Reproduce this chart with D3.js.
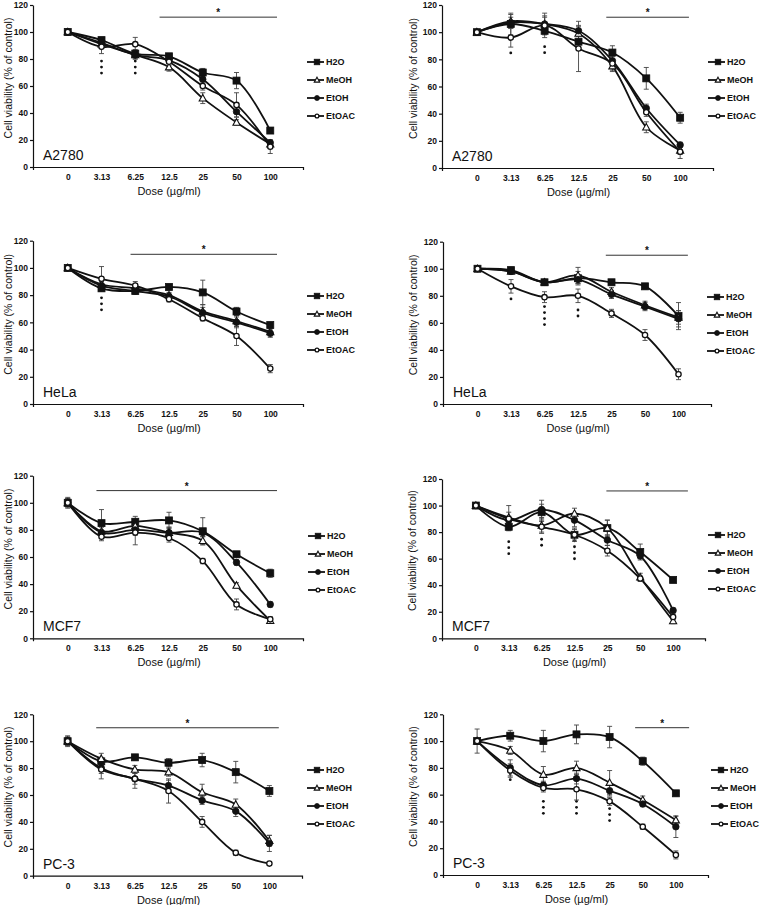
<!DOCTYPE html>
<html>
<head>
<meta charset="utf-8">
<script src="https://cdn.jsdelivr.net/npm/d3@7/dist/d3.min.js"></script>
<style>
  body { margin:0; background:#fff; }
  svg { display:block; font-family:"Liberation Sans", Arial, sans-serif; }
</style>
</head>
<body>
<svg id="chart" width="761" height="905"></svg>
<script>
// ---------------- DATA ----------------
const doses = ["0", "3.13", "6.25", "12.5", "25", "50", "100"];
const seriesNames = ["H2O", "MeOH", "EtOH", "EtOAC"];
const yTicks = [0, 20, 40, 60, 80, 100, 120];
const cellLines = ["A2780", "A2780", "HeLa", "HeLa", "MCF7", "MCF7", "PC-3", "PC-3"];

// values per panel: [H2O, MeOH, EtOH, EtOAC]
const p1Values = [[100,94,84,82,70,64,27],[100,91,83,74,51,33,17],[100,92,83,79,65,41,18],[100,89,91,78,60,46,15]];
const p1Errors = [[2,2,3,2,3,6,2],[2,3,3,3,4,2,3],[2,2,3,2,3,4,2],[2,5,5,3,3,9,5]];
const p2Values = [[100,106,101,93,85,66,37],[100,108,106,99,75,30,13],[100,107,106,101,79,44,17],[100,96,105,88,77,41,12]];
const p2Errors = [[1,8,5,4,5,8,4],[1,5,6,5,4,4,3],[1,4,8,7,4,3,2],[1,7,6,17,5,3,5]];
const p3Values = [[100,85,83,86,82,68,58],[100,88,85,80,68,61,53],[100,87,83,79,67,60,52],[100,92,87,77,63,50,26]];
const p3Errors = [[1,2,2,2,9,3,2],[1,3,3,2,5,4,3],[1,3,2,2,4,4,3],[1,9,3,2,2,7,3]];
const p4Values = [[100,99,90,93,90,87,65],[100,98,90,95,83,73,64],[100,98,90,92,81,72,63],[100,87,79,80,67,51,22]];
const p4Errors = [[1,2,2,5,2,2,10],[1,2,2,6,3,3,5],[1,2,2,3,3,3,6],[1,5,4,5,3,4,4]];
const p5Values = [[100,85,86,87,79,62,48],[100,79,83,78,72,39,13],[100,78,80,78,78,56,25],[100,75,78,74,57,25,14]];
const p5Errors = [[3,10,4,6,10,2,3],[3,4,5,4,3,2,2],[3,4,4,4,3,2,2],[4,3,9,3,2,4,2]];
const p6Values = [[100,84,95,78,83,65,44],[100,91,85,94,83,46,13],[100,89,97,89,74,62,21],[100,90,84,78,66,45,16]];
const p6Errors = [[1,3,6,5,6,6,2],[1,9,6,4,6,3,2],[1,3,7,5,4,2,2],[1,5,4,4,4,2,2]];
const p7Values = [[100,85,88,84,86,77,63],[100,87,79,77,62,53,26],[100,80,72,67,56,48,24],[100,79,72,63,40,17,9]];
const p7Errors = [[3,3,2,3,5,8,4],[3,4,3,3,6,4,4],[3,4,4,4,3,4,6],[4,7,7,9,4,2,1]];
const p8Values = [[100,104,100,105,103,85,61],[100,93,75,80,69,56,41],[100,80,67,72,63,53,36],[100,78,65,64,55,36,15]];
const p8Errors = [[9,4,8,7,8,3,2],[2,3,6,5,9,3,3],[2,6,3,4,4,2,8],[2,5,3,8,3,2,3]];

// significance bar: [from index, to index, value level]
const sigBars = [[2.72,6.2,111],[3.82,6.26,111],[1.86,6.2,110],[3.83,6.28,110],[0.85,6.2,109],[3.97,6.45,111],[0.85,6.28,110],[4.77,6.4,110]];
// dot marks: [dose index, count, value of top dot]
const dotMarks = [
  [[1,3,78.5],[2,3,78.5]],
  [[1,1,84.7],[2,2,89.3]],
  [[1,3,78]],
  [[1,1,77.7],[2,4,72],[3,2,69.5]],
  [],
  [[1,3,72.8],[2,2,74.6],[3,4,73.5]],
  [],
  [[1,2,75.7],[2,3,55],[3,3,55],[4,3,49.6]]
];

const panelValues = [p1Values,p2Values,p3Values,p4Values,p5Values,p6Values,p7Values,p8Values];
const panelErrors = [p1Errors,p2Errors,p3Errors,p4Errors,p5Errors,p6Errors,p7Errors,p8Errors];

// ---------------- LAYOUT ----------------
const layout = [
  {left:33,  width:270, top:5,     bottom:167,   legX:307, legY:62,  yLabOff:25},
  {left:442, width:271, top:5,     bottom:168,   legX:708, legY:62,  yLabOff:29},
  {left:33,  width:270, top:240.7, bottom:404,   legX:307, legY:296, yLabOff:25},
  {left:443, width:268, top:241.7, bottom:404,   legX:707, legY:297, yLabOff:30},
  {left:33,  width:270, top:475.7, bottom:638.3, legX:308, legY:536, yLabOff:25},
  {left:442, width:263, top:479,   bottom:638.3, legX:708, legY:535, yLabOff:30},
  {left:33,  width:269, top:714.3, bottom:875.7, legX:307, legY:770, yLabOff:25},
  {left:443, width:265, top:714.3, bottom:875,   legX:711, legY:770, yLabOff:30}
];

const svg = d3.select("#chart");
const ink = "#111";

function drawMarker(g, type, x, y, s) {
  if (type === 0) {
    g.append("rect").attr("x", x - s/2).attr("y", y - s/2).attr("width", s).attr("height", s)
      .attr("fill", ink).attr("stroke", ink).attr("stroke-width", 0.8);
  } else if (type === 1) {
    const h = s * 0.95;
    g.append("path").attr("d", `M${x},${y - h*0.6} L${x + s*0.55},${y + h*0.45} L${x - s*0.55},${y + h*0.45} Z`)
      .attr("fill", "#fff").attr("stroke", ink).attr("stroke-width", 1.1);
  } else if (type === 2) {
    g.append("circle").attr("cx", x).attr("cy", y).attr("r", s/2)
      .attr("fill", ink).attr("stroke", ink).attr("stroke-width", 0.8);
  } else {
    g.append("circle").attr("cx", x).attr("cy", y).attr("r", s/2 - 0.6)
      .attr("fill", "#fff").attr("stroke", ink).attr("stroke-width", 1.3);
  }
}

layout.forEach((L, p) => {
  const g = svg.append("g");
  const x = d3.scaleLinear().domain([-1.03, 6.97]).range([L.left, L.left + L.width]);
  const y = d3.scaleLinear().domain([0, 120]).range([L.bottom, L.top]);

  // axes
  const xAxis = d3.axisBottom(x).tickValues(d3.range(doses.length))
    .tickFormat(i => doses[i]).tickSizeInner(0).tickSizeOuter(3).tickPadding(7);
  const gx = g.append("g").attr("transform", `translate(0,${L.bottom})`).call(xAxis);
  gx.select(".domain").attr("stroke", ink).attr("stroke-width", 1.2);
  gx.selectAll("text").attr("font-size", 8.5).attr("font-weight", "bold").attr("fill", ink)
    .attr("font-family", "Liberation Sans, Arial, sans-serif");

  const yAxis = d3.axisLeft(y).tickValues(yTicks).tickSizeInner(3).tickSizeOuter(0).tickPadding(2);
  const gy = g.append("g").attr("transform", `translate(${L.left},0)`).call(yAxis);
  gy.select(".domain").attr("stroke", ink).attr("stroke-width", 1.2);
  gy.selectAll("line").attr("stroke", ink).attr("stroke-width", 1.2);
  gy.selectAll("text").attr("font-size", 8.5).attr("font-weight", "bold").attr("fill", ink)
    .attr("font-family", "Liberation Sans, Arial, sans-serif");

  // axis titles
  g.append("text").attr("x", x(3)).attr("y", L.bottom + 28)
    .attr("text-anchor", "middle").attr("font-size", 11).attr("fill", ink)
    .text("Dose (µg/ml)");
  const yc = (L.top + L.bottom) / 2 - 8;
  g.append("text").attr("transform", `translate(${L.left - L.yLabOff + 3.5},${yc}) rotate(-90)`)
    .attr("text-anchor", "middle").attr("font-size", 10.5).attr("fill", ink)
    .text("Cell viability (% of control)");

  // cell line label
  g.append("text").attr("x", L.left + 10).attr("y", L.bottom - 7)
    .attr("font-size", 14).attr("fill", ink).text(cellLines[p]);

  // significance bar
  const sb = sigBars[p];
  g.append("line").attr("x1", x(sb[0])).attr("x2", x(sb[1])).attr("y1", y(sb[2])).attr("y2", y(sb[2]))
    .attr("stroke", "#333").attr("stroke-width", 1);
  g.append("text").attr("x", x((sb[0] + sb[1]) / 2)).attr("y", y(sb[2]) - 1)
    .attr("text-anchor", "middle").attr("font-size", 10).attr("font-weight", "bold").attr("fill", ink).text("*");

  // dot marks
  dotMarks[p].forEach(([i, n, v]) => {
    for (let k = 0; k < n; k++) {
      g.append("circle").attr("cx", x(i)).attr("cy", y(v) + k * 6).attr("r", 1.4).attr("fill", ink);
    }
  });

  const vals = panelValues[p], errs = panelErrors[p];
  const line = d3.line().x((d, i) => x(i)).y(d => y(d)).curve(d3.curveCatmullRom.alpha(0.5));

  // lines
  vals.forEach(s => {
    g.append("path").attr("d", line(s)).attr("fill", "none").attr("stroke", ink).attr("stroke-width", 1.8);
  });
  // error bars
  vals.forEach((s, si) => {
    s.forEach((v, i) => {
      const e = errs[si][i];
      const xx = x(i);
      g.append("line").attr("x1", xx).attr("x2", xx).attr("y1", y(v - e)).attr("y2", y(v + e))
        .attr("stroke", "#444").attr("stroke-width", 0.9);
      [v - e, v + e].forEach(w => {
        g.append("line").attr("x1", xx - 2.5).attr("x2", xx + 2.5).attr("y1", y(w)).attr("y2", y(w))
          .attr("stroke", "#444").attr("stroke-width", 0.9);
      });
    });
  });
  // markers
  vals.forEach((s, si) => {
    s.forEach((v, i) => drawMarker(g, si, x(i), y(v), si === 0 ? 7 : 6.5));
  });

  // legend
  seriesNames.forEach((name, si) => {
    const ly = L.legY + si * 18;
    g.append("line").attr("x1", L.legX).attr("x2", L.legX + 17).attr("y1", ly).attr("y2", ly)
      .attr("stroke", ink).attr("stroke-width", 1.8);
    drawMarker(g, si, L.legX + 10, ly, si === 0 ? 5.5 : 5);
    g.append("text").attr("x", L.legX + 19).attr("y", ly + 3.3)
      .attr("font-size", 9).attr("font-weight", "bold").attr("fill", ink).text(name);
  });
});
</script>
</body>
</html>
